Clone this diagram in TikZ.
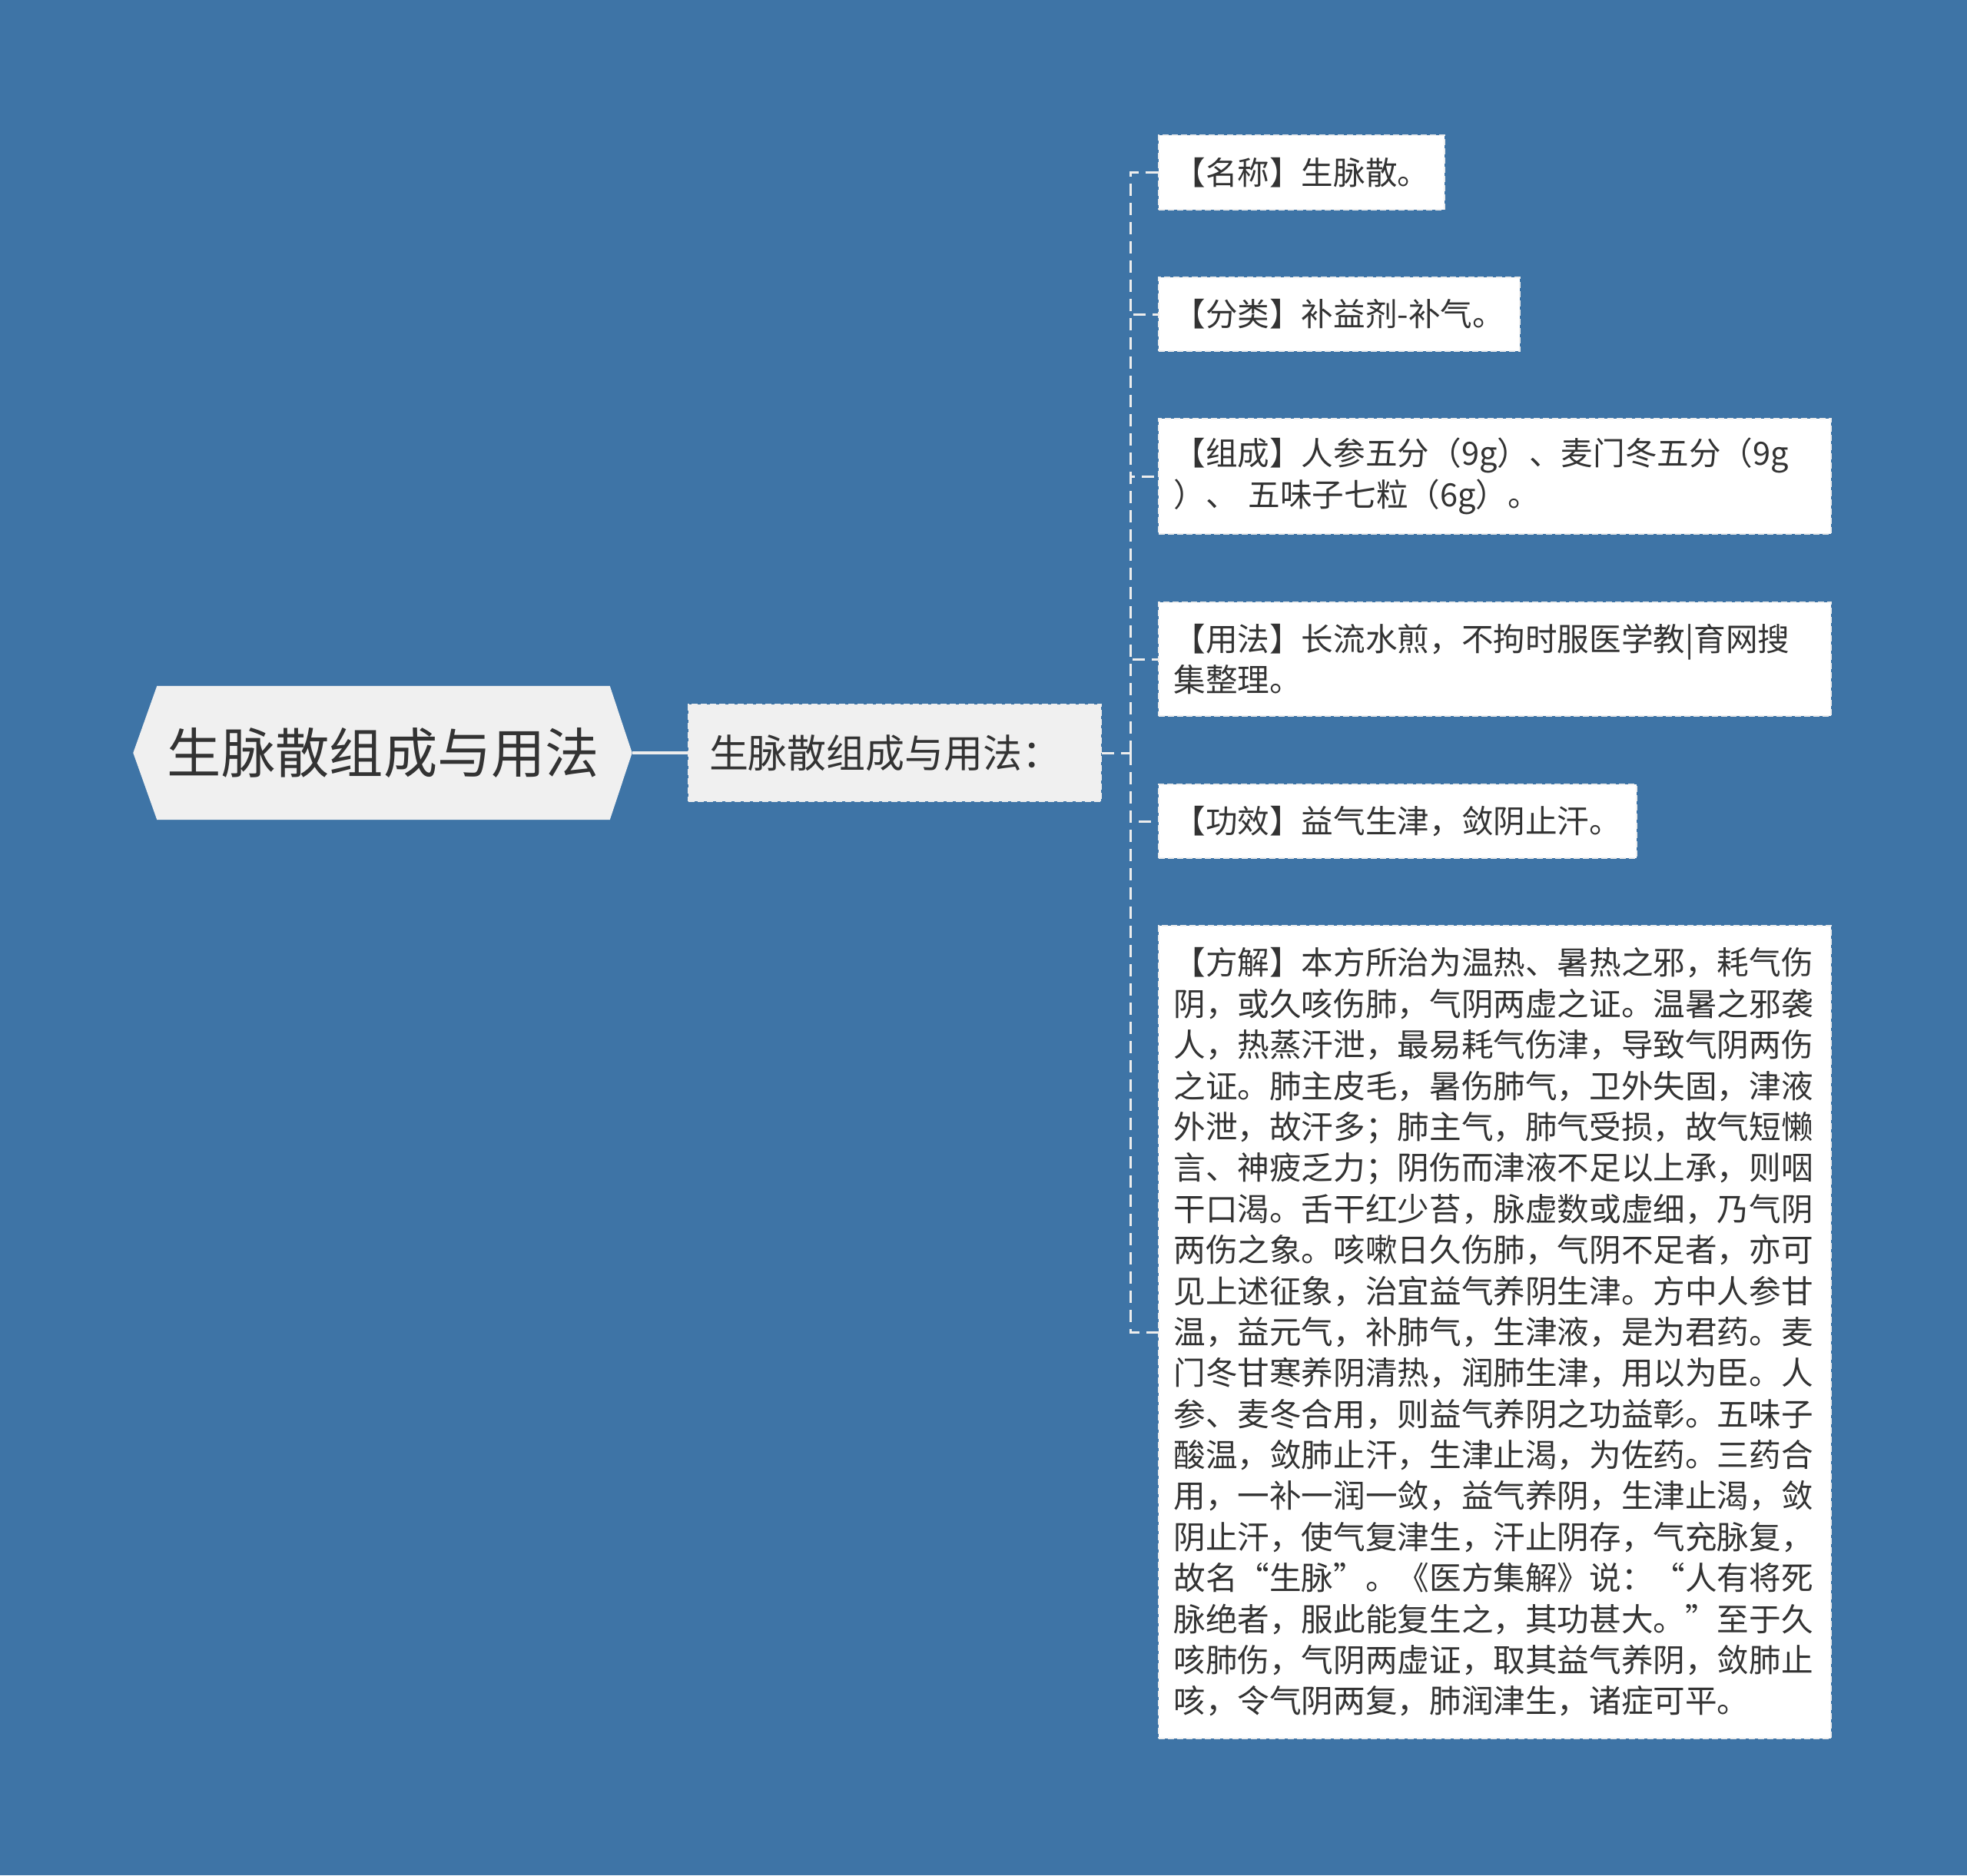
\documentclass[tikz,border=0pt]{standalone}
\usepackage{fontspec}
\setmainfont{Noto Sans CJK SC}
\usepackage{tikz}
\usetikzlibrary{calc,backgrounds,positioning}
\definecolor{bgblue}{HTML}{3E74A6}
\definecolor{paleFill}{HTML}{F0F0F0}
\definecolor{inkgrey}{HTML}{333333}
\definecolor{linegrey}{HTML}{EDEDED}
\tikzset{
  rootbox/.style={minimum width=5.88cm, minimum height=1.73cm, inner sep=0pt, text=inkgrey,
    font=\fontsize{20}{24}\selectfont},
  subbox/.style={fill=paleFill, draw=linegrey, line width=0.02cm, dash pattern=on 0.08cm off 0.04cm,
    minimum height=1.26cm, text width=4.83cm, inner xsep=0.27cm, align=left, text=inkgrey,
    font=\fontsize{14.5}{17}\selectfont},
  leaf/.style={fill=white, draw=linegrey, line width=0.02cm, dash pattern=on 0.08cm off 0.04cm,
    anchor=west, inner xsep=0.195cm, inner ysep=0.05cm, text=inkgrey,
    font=\fontsize{11.84}{15.19}\selectfont},
  wideleaf/.style={leaf, text width=8.36cm, align=left},
  branch/.style={draw=linegrey, line width=0.03cm, dash pattern=on 0.16cm off 0.09cm},
  stem/.style={draw=linegrey, line width=0.04cm}
}
\begin{document}
\begin{tikzpicture}
\useasboundingbox (0,0) rectangle (25.6,-24.41);
\begin{scope}[on background layer]
\fill[bgblue] (0,0) rectangle (25.6,-24.41);
\end{scope}

\node[rootbox] (root) at (4.99,-9.80) {生脉散组成与用法};
\node[subbox] (sub) at (11.645,-9.80) {生脉散组成与用法：};

\node[leaf, minimum height=0.97cm] (name) at (15.07,-2.245) {【名称】生脉散。};
\node[leaf, minimum height=0.96cm] (kind) at (15.07,-4.09) {【分类】补益剂-补气。};
\node[wideleaf, minimum height=1.50cm] (parts) at (15.07,-6.20) {【组成】人参五分（9g）、麦门冬五分（9g\\
）、 五味子七粒（6g）。};
\node[wideleaf, minimum height=1.48cm] (usage) at (15.07,-8.58) {【用法】长流水煎，不拘时服医学教|育网搜\\
集整理。};
\node[leaf, minimum height=0.96cm] (effect) at (15.07,-10.69) {【功效】益气生津，敛阴止汗。};
\node[wideleaf, minimum height=10.58cm] (notes) at (15.07,-17.34) {【方解】本方所治为温热、暑热之邪，耗气伤\\
阴，或久咳伤肺，气阴两虚之证。温暑之邪袭\\
人，热蒸汗泄，最易耗气伤津，导致气阴两伤\\
之证。肺主皮毛，暑伤肺气，卫外失固，津液\\
外泄，故汗多；肺主气，肺气受损，故气短懒\\
言、神疲乏力；阴伤而津液不足以上承，则咽\\
干口渴。舌干红少苔，脉虚数或虚细，乃气阴\\
两伤之象。咳嗽日久伤肺，气阴不足者，亦可\\
见上述征象，治宜益气养阴生津。方中人参甘\\
温，益元气，补肺气，生津液，是为君药。麦\\
门冬甘寒养阴清热，润肺生津，用以为臣。人\\
参、麦冬合用，则益气养阴之功益彰。五味子\\
酸温，敛肺止汗，生津止渴，为佐药。三药合\\
用，一补一润一敛，益气养阴，生津止渴，敛\\
阴止汗，使气复津生，汗止阴存，气充脉复，\\
故名“生脉”。《医方集解》说：“人有将死\\
脉绝者，服此能复生之，其功甚大。”至于久\\
咳肺伤，气阴两虚证，取其益气养阴，敛肺止\\
咳，令气阴两复，肺润津生，诸症可平。};

\begin{scope}[on background layer]
\fill[paleFill] ($(root.west)+(-0.31,0)$) -- (root.north west) -- (root.north east)
  -- ($(root.east)+(0.29,0)$) -- (root.south east) -- (root.south west) -- cycle;
\end{scope}

\coordinate (roottip) at ($(root.east)+(0.29,0)$);
\coordinate (fork) at ($(sub.east)+(0.37,0)$);
\draw[stem] (roottip) -- (sub.west);
\draw[branch] (sub.east) -- (fork);
\foreach \kid in {name,kind,parts,usage,effect,notes}
  \draw[branch] (fork) |- (\kid.west);
\end{tikzpicture}
\end{document}
